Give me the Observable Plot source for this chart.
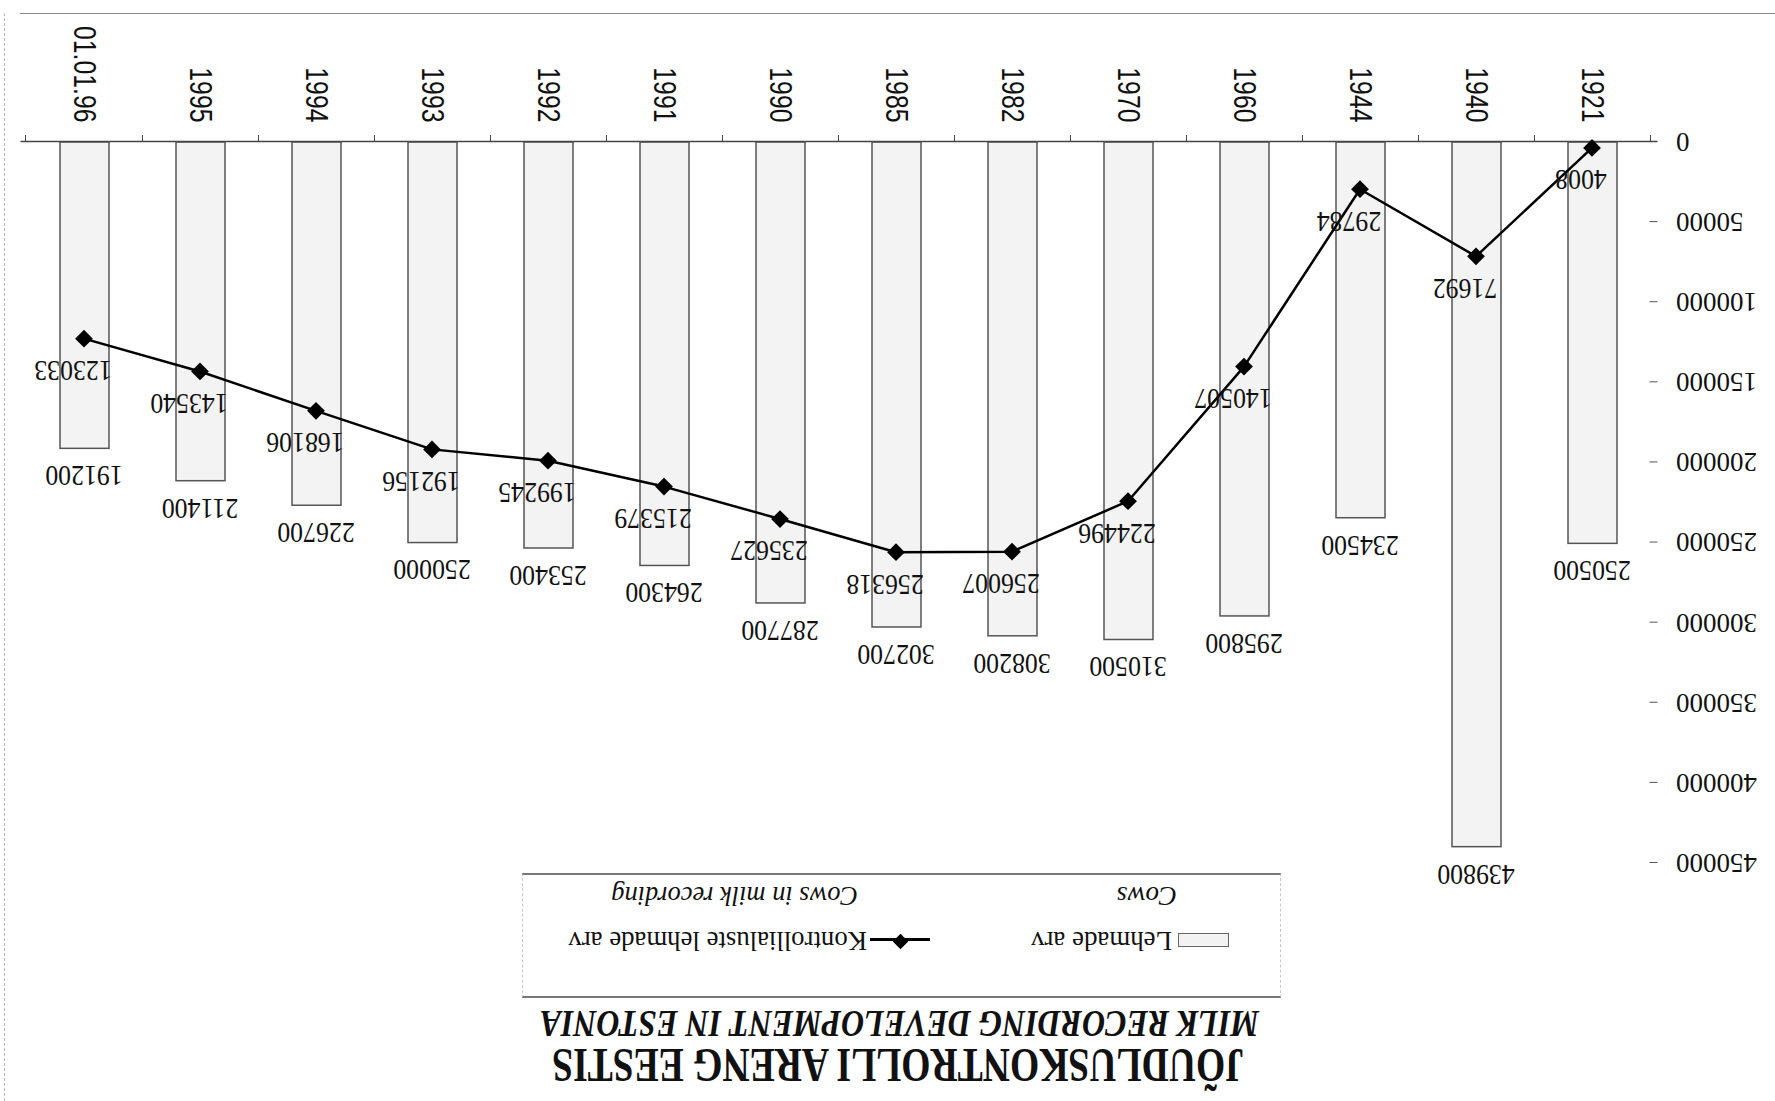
<!DOCTYPE html>
<html>
<head>
<meta charset="utf-8">
<script src="https://cdn.jsdelivr.net/npm/d3@7"></script>
<script src="https://cdn.jsdelivr.net/npm/@observablehq/plot@0.6"></script>
<style>
  html, body { margin: 0; padding: 0; background: #fff; overflow: hidden; width: 1775px; height: 1101px; }
  #page { position: absolute; left: 0; top: 0; width: 1775px; height: 1101px; background: #fff;
          transform: rotate(180deg); transform-origin: 50% 50%; }
  .t { position: absolute; white-space: nowrap; line-height: 1; color: #111;
       font-family: "Liberation Serif", "Times New Roman", serif; transform-origin: 0 0; }
  .lg { line-height: 0.8; }
</style>
</head>
<body>
<div id="page"></div>
<script>
// ---- data ----
const categories = ["1921", "1940", "1944", "1960", "1970", "1982", "1985", "1990", "1991", "1992", "1993", "1994", "1995", "01.01.96"];
const cows = [250500, 439800, 234500, 295800, 310500, 308200, 302700, 287700, 264300, 253400, 250000, 226700, 211400, 191200];
const cowsInRecording = [4008, 71692, 29784, 140507, 224496, 256007, 256318, 235627, 215379, 199245, 192156, 168106, 143540, 123033];
const yTicks = [0, 50000, 100000, 150000, 200000, 250000, 300000, 350000, 400000, 450000];
const titleText = "JÕUDLUSKONTROLLI ARENG EESTIS";
const subtitleText = "MILK RECORDING DEVELOPMENT IN ESTONIA";
const seriesNames = ["Lehmade arv", "Kontrollialuste lehmade arv"];
const seriesNamesEn = ["Cows", "Cows in milk recording"];

const page = document.getElementById("page");

// ---- helpers for HTML text ----
function addText(str, {left, top, size, weight = "normal", style = "normal", width, cls = ""}) {
  const s = document.createElement("span");
  s.className = "t " + cls;
  s.textContent = str;
  s.style.left = left + "px";
  s.style.top = top + "px";
  s.style.fontSize = size + "px";
  s.style.fontWeight = weight;
  s.style.fontStyle = style;
  page.appendChild(s);
  if (width) {
    const w = s.offsetWidth;
    s.style.transform = `scaleX(${width / w})`;
  }
  return s;
}
function addBox(css) {
  const d = document.createElement("div");
  d.style.position = "absolute";
  Object.assign(d.style, css);
  page.appendChild(d);
  return d;
}

// ---- title & subtitle ----
addText(titleText, {left: 531, top: 11.6, size: 48, weight: "bold", width: 692});
addText(subtitleText, {left: 516, top: 58.3, size: 38, weight: "bold", style: "italic", width: 719});

// ---- legend ----
addBox({left: "494px", top: "103px", width: "757px", height: "121px",
        borderTop: "2px solid #777", borderBottom: "2px solid #777",
        borderLeft: "1px dashed #c8c8c8", borderRight: "1px dashed #c8c8c8"});
addBox({left: "546px", top: "153.5px", width: "49px", height: "12px",
        border: "1.5px solid #666", background: "#f2f2f2"});
addText(seriesNames[0], {left: 603, top: 148.8, size: 28, width: 141, cls: "lg"});
addText(seriesNamesEn[0], {left: 598, top: 193.8, size: 28, style: "italic", width: 60, cls: "lg"});
addBox({left: "845px", top: "160px", width: "60px", height: "2.8px", background: "#000"});
addBox({left: "868.5px", top: "154px", width: "11px", height: "11px", background: "#000",
        transform: "rotate(45deg)"});
addText(seriesNames[1], {left: 908, top: 148.8, size: 28, width: 299, cls: "lg"});
addText(seriesNamesEn[1], {left: 917, top: 193.8, size: 28, style: "italic", width: 247, cls: "lg"});

// ---- scan frame lines ----
addBox({left: "0px", top: "1087px", width: "1755px", height: "0px", borderTop: "1.5px solid #888"});
addBox({left: "1770px", top: "0px", width: "0px", height: "1088px", borderLeft: "1px dashed #bbb"});

// ---- chart ----
const W = 1775, H = 875, ML = 117.5, MR = 20.5, MT = 12, MB = 142;
const step = (W - ML - MR) / categories.length;
const data = categories.map((c, i) => ({cat: c, cows: cows[i], rec: cowsInRecording[i]}));

const chart = Plot.plot({
  width: W, height: H,
  marginLeft: ML, marginRight: MR, marginTop: MT, marginBottom: MB,
  style: {background: "transparent", color: "#111", fontFamily: "Liberation Serif, serif", overflow: "visible"},
  x: {domain: categories, paddingInner: 0.58, paddingOuter: 0.29, label: null},
  y: {domain: [0, 450000], label: null},
  marks: [
    Plot.barY(data, {x: "cat", y: "cows", fill: "#f3f3f3", stroke: "#555", strokeWidth: 1.5}),
    Plot.ruleY([0], {stroke: "#444", strokeWidth: 1.3}),
    Plot.ruleX(categories, {x: d => d, y1: 0, y2: 0, insetBottom: -7, dx: -step / 2, stroke: "#444"}),
    Plot.ruleX(categories.slice(-1), {x: d => d, y1: 0, y2: 0, insetBottom: -7, dx: step / 2, stroke: "#444"}),
    Plot.axisX({tickSize: 0, tickPadding: 19, tickRotate: -90, fontSize: 31,
                fontFamily: "Liberation Sans, Arial, sans-serif", label: null}),
    Plot.axisY({ticks: yTicks, tickSize: 0, tickPadding: 19, tickFormat: d => String(d), fontSize: 27, label: null}),
    Plot.axisY({ticks: yTicks.slice(1), tickSize: 8, dx: 8, tickFormat: () => "", stroke: "#555", label: null}),
    Plot.text(data, {x: "cat", y: "cows", text: d => String(d.cows), dy: -28, fontSize: 30}),
    Plot.line(data, {x: "cat", y: "rec", stroke: "#000", strokeWidth: 2.5}),
    Plot.dot(data, {x: "cat", y: "rec", symbol: "diamond2", r: 8, fill: "#000", stroke: "none"}),
    Plot.text(data, {x: "cat", y: "rec", text: d => String(d.rec), dx: 11, dy: -32, fontSize: 30})
  ]
});
chart.style.position = "absolute";
chart.style.left = "0px";
chart.style.top = "226px";
page.appendChild(chart);

function squeeze(selector, k) {
  chart.querySelectorAll(selector).forEach(t => {
    const L = t.getComputedTextLength();
    if (L > 0) {
      t.setAttribute("textLength", L * k);
      t.setAttribute("lengthAdjust", "spacingAndGlyphs");
    }
  });
}
squeeze('g[aria-label="x-axis tick label"] text', 0.8);
squeeze('g[aria-label="text"] text', 0.86);
</script>
</body>
</html>
